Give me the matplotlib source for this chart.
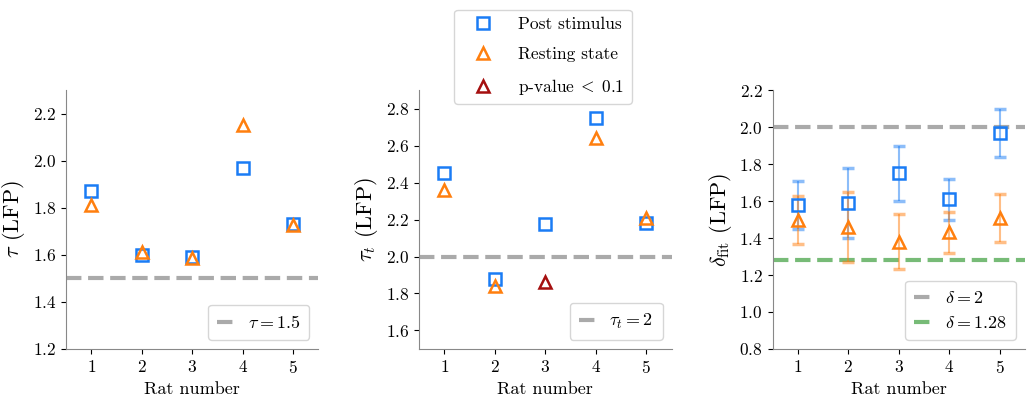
import matplotlib
matplotlib.use("Agg")
import matplotlib.pyplot as plt
from matplotlib.lines import Line2D

plt.rcParams['font.family'] = 'serif'
plt.rcParams['font.serif'] = ['cmr10', 'DejaVu Serif']
plt.rcParams['mathtext.fontset'] = 'cm'
plt.rcParams['axes.formatter.use_mathtext'] = True
plt.rcParams['font.size'] = 12.5

rats = [1, 2, 3, 4, 5]

# panel 1: tau
tau_post = [1.87, 1.60, 1.59, 1.97, 1.73]
tau_rest = [1.81, 1.61, 1.585, 2.15, 1.725]

# panel 2: tau_t
taut_post = [2.45, 1.88, 2.175, 2.75, 2.18]
taut_rest = [2.36, 1.84, 1.86, 2.64, 2.21]
taut_pval = [False, False, True, False, False]

# panel 3: delta fit with error bars
delta_post = [1.58, 1.59, 1.75, 1.61, 1.97]
delta_post_lo = [1.45, 1.40, 1.60, 1.50, 1.84]
delta_post_hi = [1.71, 1.78, 1.90, 1.72, 2.10]
delta_rest = [1.50, 1.46, 1.38, 1.43, 1.51]
delta_rest_lo = [1.37, 1.27, 1.23, 1.32, 1.38]
delta_rest_hi = [1.63, 1.65, 1.53, 1.54, 1.64]

c_post = '#1a7cf5'
c_rest = '#ff7f0e'
c_pval = '#a50f0f'
c_grey = '#aaaaaa'
c_green = '#77bb77'

mk = dict(markersize=8, markeredgewidth=1.8, markerfacecolor='none', linestyle='none')

fig = plt.figure(figsize=(10.3, 3.97), dpi=100)
ax1 = fig.add_axes([0.064, 0.121, 0.245, 0.652])
ax2 = fig.add_axes([0.407, 0.121, 0.245, 0.652])
ax3 = fig.add_axes([0.750, 0.121, 0.245, 0.652])

for ax in (ax1, ax2, ax3):
    ax.spines['top'].set_visible(False)
    ax.spines['right'].set_visible(False)
    ax.spines['left'].set_color('#888888')
    ax.spines['bottom'].set_color('#888888')
    ax.set_xlim(0.5, 5.5)
    ax.set_xticks(rats)
    ax.tick_params(labelsize=12.5)
    ax.set_xlabel('Rat number', fontsize=13)

leg_kw = dict(loc='lower right', fontsize=13, handlelength=0.9, borderpad=0.5)

# panel 1
ax1.axhline(1.5, color=c_grey, lw=3, ls='--', label=r'$\tau = 1.5$')
ax1.plot(rats, tau_post, marker='s', color=c_post, **mk)
ax1.plot(rats, tau_rest, marker='^', color=c_rest, **mk)
ax1.set_ylim(1.2, 2.3)
ax1.set_yticks([1.2, 1.4, 1.6, 1.8, 2.0, 2.2])
ax1.set_ylabel(r'$\tau$ (LFP)', fontsize=16)
ax1.legend(**leg_kw)

# panel 2
ax2.axhline(2.0, color=c_grey, lw=3, ls='--', label=r'$\tau_t = 2$')
ax2.plot(rats, taut_post, marker='s', color=c_post, **mk)
for r, v, p in zip(rats, taut_rest, taut_pval):
    ax2.plot(r, v, marker='^', color=c_pval if p else c_rest, **mk)
ax2.set_ylim(1.5, 2.9)
ax2.set_yticks([1.6, 1.8, 2.0, 2.2, 2.4, 2.6, 2.8])
ax2.set_ylabel(r'$\tau_t$ (LFP)', fontsize=16)
ax2.legend(**leg_kw)

# panel 3
ax3.axhline(2.0, color=c_grey, lw=3, ls='--', label=r'$\delta = 2$')
ax3.axhline(1.28, color=c_green, lw=3, ls='--', label=r'$\delta = 1.28$')
post_err = [[v - lo for v, lo in zip(delta_post, delta_post_lo)],
            [hi - v for v, hi in zip(delta_post, delta_post_hi)]]
rest_err = [[v - lo for v, lo in zip(delta_rest, delta_rest_lo)],
            [hi - v for v, hi in zip(delta_rest, delta_rest_hi)]]
ax3.errorbar(rats, delta_post, yerr=post_err, fmt='none', ecolor=c_post, alpha=0.5,
             capsize=4, capthick=2.5, elinewidth=1.5)
ax3.errorbar(rats, delta_rest, yerr=rest_err, fmt='none', ecolor=c_rest, alpha=0.5,
             capsize=4, capthick=2.5, elinewidth=1.5)
ax3.plot(rats, delta_post, marker='s', color=c_post, **mk)
ax3.plot(rats, delta_rest, marker='^', color=c_rest, **mk)
ax3.set_ylim(0.8, 2.2)
ax3.set_yticks([0.8, 1.0, 1.2, 1.4, 1.6, 1.8, 2.0, 2.2])
ax3.set_ylabel(r'$\delta_{\rm fit}$ (LFP)', fontsize=16)
ax3.legend(**leg_kw)

handles = [Line2D([], [], marker='s', color=c_post, **mk),
           Line2D([], [], marker='^', color=c_rest, **mk),
           Line2D([], [], marker='^', color=c_pval, **mk)]
fig.legend(handles, ['Post stimulus', 'Resting state', r'p-value$\;<\;$0.1'],
           loc='upper center', bbox_to_anchor=(0.527, 0.997), fontsize=12.5,
           handlelength=2.5, labelspacing=0.85)

fig.savefig('out.png', dpi=100)
